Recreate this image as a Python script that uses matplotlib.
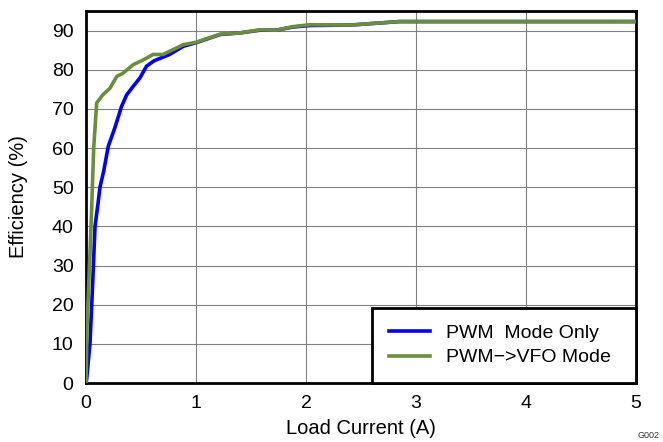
import matplotlib
matplotlib.use('Agg')
import matplotlib.pyplot as plt

plt.rcParams['font.family'] = ['Liberation Sans', 'DejaVu Sans']

# PWM Mode Only
pwm_x = [0.0, 0.006, 0.036, 0.06, 0.082, 0.11, 0.127, 0.16, 0.203, 0.26, 0.324, 0.37, 0.43,
         0.49, 0.55, 0.62, 0.76, 0.885, 1.0, 1.22, 1.4, 1.58, 1.73, 1.88, 2.04, 2.4, 2.85, 3.5, 4.2, 5.0]
pwm_y = [0.0, 1.0, 10.0, 25.0, 40.0, 46.0, 50.0, 54.0, 60.5, 65.0, 70.7, 73.6, 75.8,
         77.9, 80.9, 82.3, 83.9, 86.0, 86.9, 89.0, 89.4, 90.1, 90.1, 90.9, 91.3, 91.4, 92.3, 92.3, 92.3, 92.3]

# PWM->VFO Mode
vfo_x = [0.0, 0.01, 0.036, 0.05, 0.07, 0.097, 0.15, 0.218, 0.28, 0.33, 0.43, 0.52, 0.61,
         0.70, 0.885, 1.0, 1.22, 1.4, 1.58, 1.73, 1.88, 2.04, 2.4, 2.85, 3.5, 4.2, 5.0]
vfo_y = [0.0, 15.0, 33.0, 43.4, 60.0, 71.5, 73.5, 75.3, 78.3, 79.0, 81.3, 82.5, 83.9,
         83.9, 86.4, 87.0, 89.1, 89.4, 90.2, 90.1, 91.0, 91.5, 91.4, 92.3, 92.3, 92.3, 92.3]

fig = plt.figure(figsize=(6.63, 4.42), dpi=100)
ax = fig.add_axes([86 / 663, 1 - 383 / 442, 550 / 663, 372 / 442])

ax.plot(pwm_x, pwm_y, color='#0000FF', linewidth=2.6, label='PWM  Mode Only', zorder=3)
ax.plot(vfo_x, vfo_y, color='#6B8E3A', linewidth=2.6, label='PWM\u2212>VFO Mode', zorder=4)

ax.set_xlim(0, 5)
ax.set_ylim(0, 95)
ax.set_xticks([0, 1, 2, 3, 4, 5])
ax.set_yticks(range(0, 91, 10))
ax.tick_params(length=0, labelsize=14, pad=9)
ax.grid(True, color='#808080', linewidth=0.8)
for s in ax.spines.values():
    s.set_linewidth(2)
    s.set_color('black')

ax.set_xlabel('Load Current (A)', fontsize=14.5, labelpad=5)
ax.set_ylabel('Efficiency (%)', fontsize=14.5, labelpad=17)

x0 = (372 - 86) / 550
leg = ax.legend(loc='lower left', bbox_to_anchor=(x0, 0, 1 - x0, 0.2), mode='expand',
                fontsize=14, fancybox=False, framealpha=1,
                edgecolor='black', borderaxespad=0, handlelength=2.15, handletextpad=0.8,
                borderpad=0.85, labelspacing=0.35)
leg.get_frame().set_linewidth(2)

fig.text(660 / 663, 1 - 440 / 442, 'G002', fontsize=6.5, ha='right', va='bottom', color='#333333')

fig.savefig('out.png', dpi=100)
